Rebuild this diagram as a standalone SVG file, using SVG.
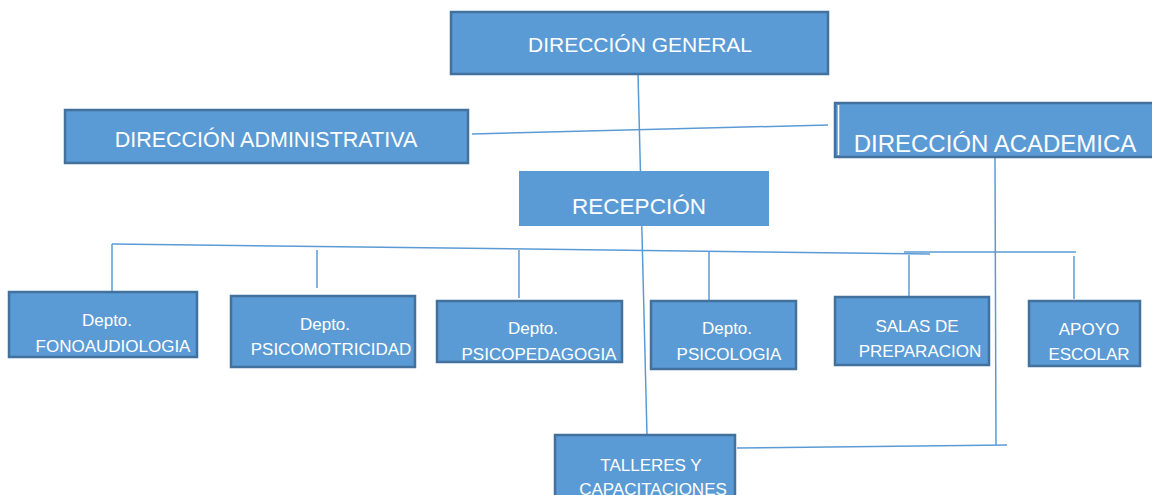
<svg xmlns="http://www.w3.org/2000/svg" width="1152" height="495" viewBox="0 0 1152 495">
<style>
.box{fill:#5B9BD5;stroke:#41719C;stroke-width:2.5}
.plain{fill:#5B9BD5}
.ln{stroke:#5B9BD5;stroke-width:1.5;fill:none}
text{font-family:"Liberation Sans",Arial,sans-serif;fill:#ffffff;text-anchor:middle}
.s{font-size:17px}
</style>
<rect width="1152" height="495" fill="#ffffff"/>
<g id="connectors">
<line class="ln" x1="638" y1="74" x2="647" y2="435"/>
<line class="ln" x1="472" y1="134" x2="828" y2="125"/>
<line class="ln" x1="995" y1="157" x2="996" y2="445"/>
<line class="ln" x1="737" y1="448" x2="1007" y2="445"/>
<line class="ln" x1="112" y1="244" x2="930" y2="254"/>
<line class="ln" x1="904" y1="252" x2="1076" y2="252"/>
<line class="ln" x1="112" y1="244" x2="112" y2="292"/>
<line class="ln" x1="317" y1="250" x2="317" y2="288"/>
<line class="ln" x1="519" y1="250" x2="519" y2="298"/>
<line class="ln" x1="709" y1="251" x2="709" y2="302"/>
<line class="ln" x1="909" y1="255" x2="909" y2="298"/>
<line class="ln" x1="1074" y1="256" x2="1074" y2="299"/>
</g>
<g id="general">
<rect class="box" x="451" y="12" width="377" height="62"/>
<text x="640" y="52" font-size="21">DIRECCIÓN GENERAL</text>
</g>
<g id="administrativa">
<rect class="box" x="65" y="110" width="403" height="53"/>
<text x="266" y="147" font-size="21.5">DIRECCIÓN ADMINISTRATIVA</text>
</g>
<g id="academica">
<rect class="box" x="835" y="103" width="330" height="54"/>
<line x1="838.5" y1="105" x2="838.5" y2="155" stroke="#ffffff" stroke-width="1.5"/>
<text x="995" y="152" font-size="24">DIRECCIÓN ACADEMICA</text>
</g>
<g id="recepcion">
<rect class="plain" x="519" y="171" width="250" height="55"/>
<text x="639" y="214" font-size="22.5">RECEPCIÓN</text>
</g>
<g id="fonoaudiologia">
<rect class="box" x="9" y="292" width="188" height="65"/>
<text class="s" x="107" y="326">Depto.</text>
<text class="s" x="113" y="352">FONOAUDIOLOGIA</text>
</g>
<g id="psicomotricidad">
<rect class="box" x="231" y="296" width="184" height="71"/>
<text class="s" x="325" y="330">Depto.</text>
<text class="s" x="331" y="355">PSICOMOTRICIDAD</text>
</g>
<g id="psicopedagogia">
<rect class="box" x="437" y="301" width="185" height="61"/>
<text class="s" x="533" y="334">Depto.</text>
<text class="s" x="539" y="360">PSICOPEDAGOGIA</text>
</g>
<g id="psicologia">
<rect class="box" x="651" y="301" width="145" height="68"/>
<text class="s" x="727" y="334">Depto.</text>
<text class="s" x="729" y="360">PSICOLOGIA</text>
</g>
<g id="salas">
<rect class="box" x="835" y="297" width="154" height="68"/>
<text class="s" x="917" y="332">SALAS DE</text>
<text class="s" x="920" y="357">PREPARACION</text>
</g>
<g id="apoyo">
<rect class="box" x="1029" y="301" width="111" height="65"/>
<text class="s" x="1089" y="335">APOYO</text>
<text class="s" x="1089" y="360">ESCOLAR</text>
</g>
<g id="talleres">
<rect class="box" x="555" y="435" width="180" height="70"/>
<text class="s" x="651" y="471">TALLERES Y</text>
<text class="s" x="653" y="495">CAPACITACIONES</text>
</g>
</svg>
